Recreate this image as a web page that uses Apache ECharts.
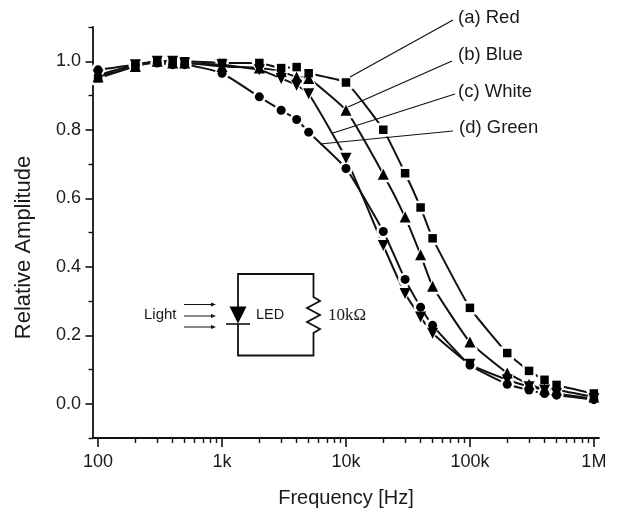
<!DOCTYPE html>
<html>
<head>
<meta charset="utf-8">
<style>html,body{margin:0;padding:0;background:#fff}#c{width:618px;height:513px}</style>
<script src="https://cdn.jsdelivr.net/npm/echarts@6/dist/echarts.min.js"></script>
</head>
<body>
<div id="c"></div>
<script>
const frequencies = [100,200,300,400,500,1000,2000,3000,4000,5000,10000,20000,30000,40000,50000,100000,200000,300000,400000,500000,1000000];
const red   = [.950,.985,1.000,1.000,1.000,.995,.995,.980,.983,.965,.938,.800,.673,.573,.483,.280,.148,.096,.070,.055,.030];
const blue  = [.955,.985,1.000,.995,.995,.985,.980,.970,.954,.950,.857,.670,.545,.435,.343,.180,.090,.057,.042,.040,.020];
const white = [.960,.990,1.000,1.000,.995,.990,.975,.950,.930,.905,.717,.462,.322,.253,.206,.115,.070,.050,.040,.030,.015];
const green = [.975,.990,.995,.990,.990,.965,.896,.857,.830,.793,.687,.503,.363,.282,.229,.113,.057,.040,.030,.025,.012];
const xMajorTicks = [100,1000,10000,100000,1000000];
const xMinorTicks = [200,300,400,500,600,700,800,900,2000,3000,4000,5000,6000,7000,8000,9000,20000,30000,40000,50000,60000,70000,80000,90000,200000,300000,400000,500000,600000,700000,800000,900000];
const yMajorTicks = [0,0.2,0.4,0.6,0.8,1.0];
const yMinorTicks = [-0.1,0.1,0.3,0.5,0.7,0.9,1.1];
const xLabels = {100:'100',1000:'1k',10000:'10k',100000:'100k',1000000:'1M'};
const calloutLabels = ['(a) Red','(b) Blue','(c) White','(d) Green'];

const INK = '#111';
const FONT = '"Liberation Sans", Arial, sans-serif';
const toPairs = v => frequencies.map((f,i)=>[f,v[i]]);
// line with white halo symbols that open the small gap around each marker
const lineSeries = (name,data,symbol,size,rotate,z) => ({
  name,type:'line',data:toPairs(data),symbol,symbolSize:size+5,symbolRotate:rotate,z,
  smooth:0.15,
  lineStyle:{color:INK,width:2},
  itemStyle:{color:'#fff',borderWidth:0}
});
// solid black markers kept above all the lines and halos
const markSeries = (name,data,symbol,size,rotate,z) => ({
  name,type:'line',data:toPairs(data),symbol,symbolSize:size,symbolRotate:rotate,z,
  lineStyle:{width:0,opacity:0},
  itemStyle:{color:'#000',borderWidth:0}
});
const seg = (x1,y1,x2,y2,w,z) => ({type:'line',shape:{x1,y1,x2,y2},style:{stroke:INK,lineWidth:w||1.2},z:z||20});
const txt = (x,y,text,size,family,align) => ({type:'text',x,y,z:20,style:{text,fontSize:size,fontFamily:family||FONT,fill:'#1a1a1a',textAlign:align||'left',textVerticalAlign:'middle'}});
const arrow = (y) => [seg(184,y,213,y,1), {type:'polygon',z:20,shape:{points:[[211,y-2],[216,y],[211,y+2]]},style:{fill:INK}}];

const chart = echarts.init(document.getElementById('c'),null,{renderer:'canvas'});
chart.setOption({
  animation:false,
  backgroundColor:'#fff',
  grid:{left:93,right:19,top:27,bottom:75,containLabel:false},
  xAxis:[
    {type:'log',logBase:10,min:91,max:1100000,position:'bottom',
     name:'Frequency [Hz]',nameLocation:'middle',nameGap:50,
     nameTextStyle:{fontSize:20,fontFamily:FONT,color:'#1a1a1a'},
     axisLine:{show:true,onZero:false,lineStyle:{color:INK,width:1.8}},
     axisTick:{show:true,customValues:xMajorTicks,length:9,inside:false,lineStyle:{color:INK,width:1.6}},
     axisLabel:{show:true,customValues:xMajorTicks,margin:15,fontSize:18,fontFamily:FONT,color:'#1a1a1a',
       formatter:v=>xLabels[Math.round(v)]||'' ,hideOverlap:false,showMinLabel:true,showMaxLabel:true},
     splitLine:{show:false},minorTick:{show:false},minorSplitLine:{show:false}},
    {type:'log',logBase:10,min:91,max:1100000,position:'bottom',
     axisLine:{show:false,onZero:false},
     axisTick:{show:true,customValues:xMinorTicks,length:5,lineStyle:{color:INK,width:1.4}},
     axisLabel:{show:false},splitLine:{show:false}}
  ],
  yAxis:[
    {type:'value',min:-0.1,max:1.1,position:'left',
     name:'Relative Amplitude',nameLocation:'middle',nameGap:58,nameRotate:90,
     nameTextStyle:{fontSize:22,fontFamily:FONT,color:'#1a1a1a',padding:[0,30,0,0]},
     axisLine:{show:true,onZero:false,lineStyle:{color:INK,width:1.8}},
     axisTick:{show:true,customValues:yMajorTicks,length:7.5,lineStyle:{color:INK,width:1.6}},
     axisLabel:{show:true,customValues:yMajorTicks,margin:12,fontSize:18,fontFamily:FONT,color:'#1a1a1a',formatter:v=>Number(v).toFixed(1)},
     splitLine:{show:false}},
    {type:'value',min:-0.1,max:1.1,position:'left',
     axisLine:{show:false,onZero:false},
     axisTick:{show:true,customValues:yMinorTicks,length:4.5,lineStyle:{color:INK,width:1.4}},
     axisLabel:{show:false},splitLine:{show:false}}
  ],
  series:[
    lineSeries('(a) Red',red,'rect',8.5,0,3),
    lineSeries('(b) Blue',blue,'triangle',11,0,4),
    lineSeries('(c) White',white,'triangle',11,180,5),
    lineSeries('(d) Green',green,'circle',9,0,6),
    markSeries('(a) Red markers',red,'rect',8.5,0,10),
    markSeries('(b) Blue markers',blue,'triangle',11,0,11),
    markSeries('(c) White markers',white,'triangle',11,180,12),
    markSeries('(d) Green markers',green,'circle',9,0,13),
  ],
  graphic:{elements:[
    seg(350,77,453,20), seg(348,107,452,61), seg(333,133,455,94), seg(320,144,453,131),
    txt(458,18,calloutLabels[0],18.5), txt(458,55,calloutLabels[1],18.5), txt(458,92,calloutLabels[2],18.5), txt(459,128,calloutLabels[3],18.5),
    // inset circuit
    {type:'polyline',z:20,shape:{points:[[238,307],[238,274],[313.5,274],[313.5,297],[320,301],[307,308],[320,315],[307,322],[320,329],[313.5,333],[313.5,355.5],[238,355.5],[238,324]]},style:{stroke:INK,lineWidth:1.8,fill:null}},
    {type:'polygon',z:20,shape:{points:[[229.5,306.5],[246.5,306.5],[238,323.5]]},style:{fill:'#000'}},
    seg(226,324,250,324,1.6),
    ...arrow(304.5),...arrow(316),...arrow(327),
    txt(144,314.5,'Light',15),
    txt(256,314.5,'LED',14.5),
    txt(328,316,'10kΩ',17,'"Liberation Serif", serif')
  ]}
});
</script>
</body>
</html>
